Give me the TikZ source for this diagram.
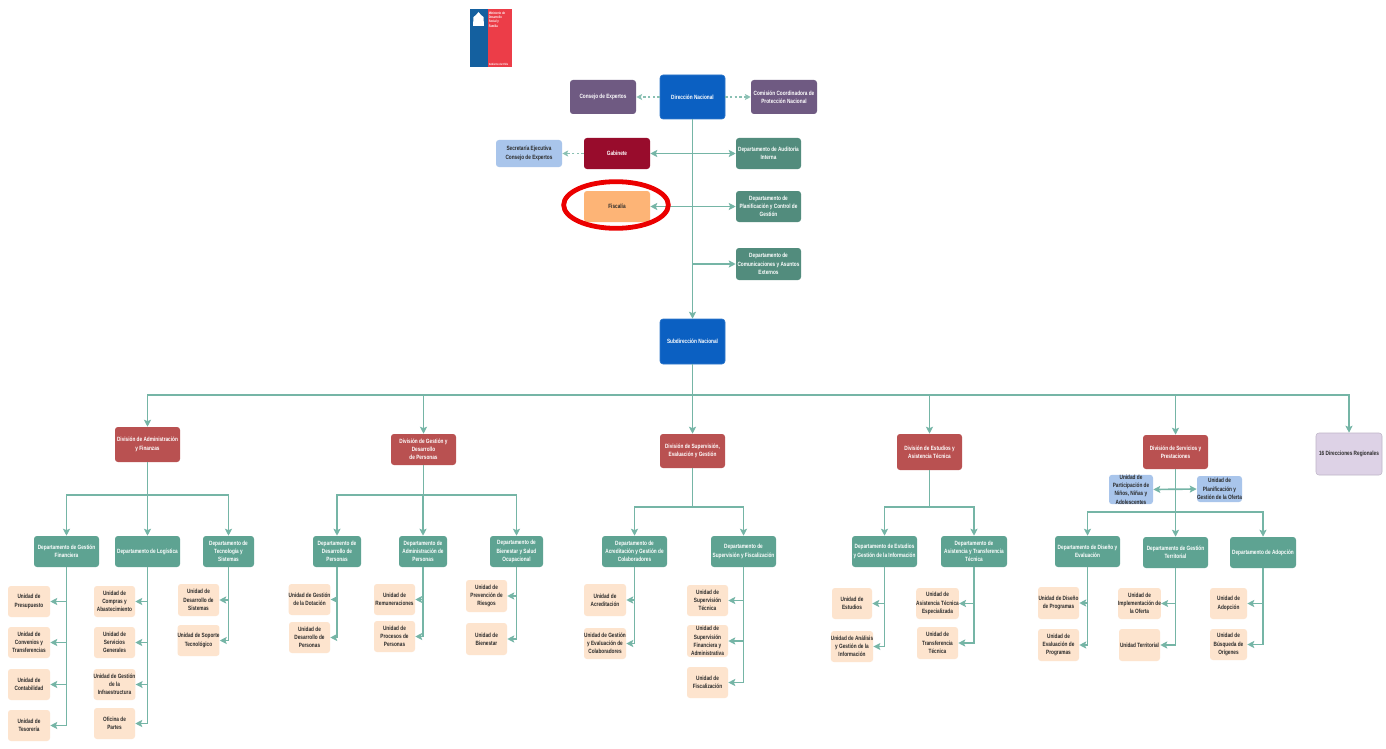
\documentclass[tikz,border=0pt]{standalone}
\usepackage{fontspec}
\setmainfont[FakeStretch=0.77]{Liberation Sans}
\usetikzlibrary{arrows.meta,calc,shapes.geometric}
\definecolor{cdir}{HTML}{0B60C2}
\definecolor{cpur}{HTML}{6F5A82}
\definecolor{cgab}{HTML}{980C2C}
\definecolor{cfis}{HTML}{FDB476}
\definecolor{cup}{HTML}{528C7D}
\definecolor{cdep}{HTML}{5EA392}
\definecolor{cdiv}{HTML}{B95151}
\definecolor{cuni}{HTML}{FDE4CE}
\definecolor{cblu}{HTML}{A9C5EB}
\definecolor{clav}{HTML}{DDD2E6}
\definecolor{cline}{HTML}{75B5A6}
\definecolor{ctxt}{HTML}{2B2B2B}
\definecolor{clogob}{HTML}{14609F}
\definecolor{clogor}{HTML}{EC3D48}
\tikzset{
  base/.style={rounded corners=2.2pt,inner sep=0pt,align=center,font=\fontsize{4.6}{6.2}\selectfont\bfseries},
  dirbox/.style={base,fill=cdir,text=white,draw=cdir!85!white,line width=.4pt},
  purbox/.style={base,fill=cpur,text=white},
  gabbox/.style={base,fill=cgab,text=white},
  fisbox/.style={base,fill=cfis,text=ctxt},
  upbox/.style={base,fill=cup,text=white},
  depbox/.style={base,fill=cdep,text=white},
  divbox/.style={base,fill=cdiv,text=white},
  unibox/.style={base,fill=cuni,text=ctxt},
  blubox/.style={base,fill=cblu,text=ctxt},
  lavbox/.style={base,fill=clav,text=ctxt,draw=cpur!45!white,line width=.4pt},
  conn/.style={draw=cline,line width=1.25pt,-{Stealth[length=5.2pt,width=5.2pt,inset=1pt]}},
  plain/.style={draw=cline,line width=1.25pt},
  both/.style={draw=cline,line width=1.25pt,{Stealth[length=5.2pt,width=5.2pt,inset=1pt]}-{Stealth[length=5.2pt,width=5.2pt,inset=1pt]}},
  dots/.style={draw=cline!85!white,line width=.9pt,dash pattern=on 1.8pt off 1.7pt,-{Stealth[length=4.4pt,width=4.4pt,inset=1pt]}},
}
\newcommand{\bx}[7]{%
  \pgfmathsetmacro{\bw}{(#5-#3)*0.75}\pgfmathsetmacro{\bh}{(#6-#4)*0.75}%
  \node[#2,minimum width=\bw pt,minimum height=\bh pt] (#1) at ({(#3+#5)/2},{(#4+#6)/2}) {#7};}
\begin{document}
\begin{tikzpicture}[x=0.75pt,y=-0.75pt]
\useasboundingbox (0,0) rectangle (1386,749);
\fill[fill=white] (0,0) rectangle (1386,749);
% logo
\fill[fill=clogob] (470,9) rectangle (487.5,67);
\fill[fill=clogor] (487.5,9) rectangle (512,67);
\fill[white] (473,26) -- (473.5,17) -- (476,15) -- (478.5,12) -- (481,15) -- (483.5,17) -- (484,26) -- cycle;
\node[anchor=north west,inner sep=0pt,align=left,text=white,font=\fontsize{2.6}{3.2}\selectfont\bfseries] (logot) at (488.5,11.5) {Ministerio de\\Desarrollo\\Social y\\Familia};
\node[anchor=south west,inner sep=0pt,text=white,font=\fontsize{2.2}{3}\selectfont\bfseries] (logob) at (488.5,65.5) {Gobierno de Chile};
% top
\bx{dir}{dirbox}{660}{75}{725}{119}{Dirección Nacional}
\bx{cons}{purbox}{570}{80}{636}{114}{Consejo de Expertos}
\bx{comi}{purbox}{751}{80}{817}{114}{Comisión Coordinadora de\\Protección Nacional}
\bx{secr}{blubox}{496}{140}{562}{167}{Secretaría Ejecutiva\\Consejo de Expertos}
\bx{gabi}{gabbox}{584}{138}{650}{169}{Gabinete}
\bx{audi}{upbox}{736}{138}{801}{169}{Departamento de Auditoría\\Interna}
\bx{fisc}{fisbox}{584}{191}{650}{222}{Fiscalía}
\bx{plan}{upbox}{736}{191}{801}{222}{Departamento de\\Planificación y Control de\\Gestión}
\bx{comu}{upbox}{736}{248}{801}{280}{Departamento de\\Comunicaciones y Asuntos\\Externos}
\bx{sub}{dirbox}{660}{319}{725}{364}{Subdirección Nacional}
% divisions
\bx{da}{divbox}{115}{427}{180}{462}{División de Administración\\y Finanzas}
\bx{dg}{divbox}{391}{434}{456}{465}{División de Gestión y\\Desarrollo\\de Personas}
\bx{ds}{divbox}{660}{434}{725}{468}{División de Supervisión,\\Evaluación y Gestión}
\bx{de}{divbox}{897}{434}{962}{470}{División de Estudios y\\Asistencia Técnica}
\bx{dp}{divbox}{1143}{435}{1208}{469}{División de Servicios y\\Prestaciones}
\bx{dr}{lavbox}{1316}{433}{1382}{475}{16 Direcciones Regionales}
% departments
\bx{a1}{depbox}{34}{536}{99}{567}{Departamento de Gestión\\Financiera}
\bx{a2}{depbox}{115}{536}{180}{567}{Departamento de Logística}
\bx{a3}{depbox}{203}{536}{254}{567}{Departamento de\\Tecnología y\\Sistemas}
\bx{g1}{depbox}{313}{536}{361}{567}{Departamento de\\Desarrollo de\\Personas}
\bx{g2}{depbox}{399}{536}{447}{567}{Departamento de\\Administración de\\Personas}
\bx{g3}{depbox}{490}{536}{543}{567}{Departamento de\\Bienestar y Salud\\Ocupacional}
\bx{s1}{depbox}{602}{536}{667}{567}{Departamento de\\Acreditación y Gestión de\\Colaboradores}
\bx{s2}{depbox}{711}{536}{776}{567}{Departamento de\\Supervisión y Fiscalización}
\bx{e1}{depbox}{852}{536}{917}{567}{Departamento de Estudios\\y Gestión de la Información}
\bx{e2}{depbox}{941}{536}{1007}{567}{Departamento de\\Asistencia y Transferencia\\Técnica}
\bx{p1}{depbox}{1055}{536}{1120}{567}{Departamento de Diseño y\\Evaluación}
\bx{p2}{depbox}{1143}{537}{1208}{568}{Departamento de Gestión\\Territorial}
\bx{p3}{depbox}{1230}{537}{1296}{568}{Departamento de Adopción}
% staff units of Servicios
\bx{up}{blubox}{1109}{475}{1153}{504}{Unidad de\\Participación de\\Niños, Niñas y\\Adolescentes}
\bx{uq}{blubox}{1197}{476}{1242}{502}{Unidad de\\Planificación y\\Gestión de la Oferta}
% units
\bx{a11}{unibox}{8}{586}{50}{617}{Unidad de\\Presupuesto}
\bx{a12}{unibox}{8}{627}{50}{658}{Unidad de\\Convenios y\\Transferencias}
\bx{a13}{unibox}{8}{669}{50}{700}{Unidad de\\Contabilidad}
\bx{a14}{unibox}{8}{710}{50}{741}{Unidad de\\Tesorería}
\bx{a21}{unibox}{94}{586}{135}{617}{Unidad de\\Compras y\\Abastecimiento}
\bx{a22}{unibox}{94}{627}{135}{658}{Unidad de\\Servicios\\Generales}
\bx{a23}{unibox}{94}{669}{135}{700}{Unidad de Gestión\\de la\\Infraestructura}
\bx{a24}{unibox}{94}{708}{135}{739}{Oficina de\\Partes}
\bx{a31}{unibox}{178}{584}{219}{616}{Unidad de\\Desarrollo de\\Sistemas}
\bx{a32}{unibox}{178}{625}{219}{656}{Unidad de Soporte\\Tecnológico}
\bx{g11}{unibox}{289}{584}{330}{615}{Unidad de Gestión\\de la Dotación}
\bx{g12}{unibox}{289}{622}{330}{653}{Unidad de\\Desarrollo de\\Personas}
\bx{g21}{unibox}{374}{584}{415}{615}{Unidad de\\Remuneraciones}
\bx{g22}{unibox}{374}{621}{415}{652}{Unidad de\\Procesos de\\Personas}
\bx{g31}{unibox}{466}{580}{507}{612}{Unidad de\\Prevención de\\Riesgos}
\bx{g32}{unibox}{466}{623}{507}{655}{Unidad de\\Bienestar}
\bx{s11}{unibox}{584}{584}{626}{616}{Unidad de\\Acreditación}
\bx{s12}{unibox}{584}{628}{626}{659}{Unidad de Gestión\\y Evaluación de\\Colaboradores}
\bx{s21}{unibox}{687}{585}{728}{616}{Unidad de\\Supervisión\\Técnica}
\bx{s22}{unibox}{687}{625}{728}{657}{Unidad de\\Supervisión\\Financiera y\\Administrativa}
\bx{s23}{unibox}{687}{667}{728}{698}{Unidad de\\Fiscalización}
\bx{e11}{unibox}{832}{588}{872}{619}{Unidad de\\Estudios}
\bx{e12}{unibox}{832}{631}{872}{662}{Unidad de Análisis\\y Gestión de la\\Información}
\bx{e21}{unibox}{917}{588}{958}{619}{Unidad de\\Asistencia Técnica\\Especializada}
\bx{e22}{unibox}{917}{627}{958}{659}{Unidad de\\Transferencia\\Técnica}
\bx{p11}{unibox}{1038}{587}{1079}{619}{Unidad de Diseño\\de Programas}
\bx{p12}{unibox}{1038}{629}{1079}{661}{Unidad de\\Evaluación de\\Programas}
\bx{p21}{unibox}{1119}{588}{1160}{619}{Unidad de\\Implementación de\\la Oferta}
\bx{p22}{unibox}{1119}{629}{1160}{661}{Unidad Territorial}
\bx{p31}{unibox}{1210}{588}{1247}{619}{Unidad de\\Adopción}
\bx{p32}{unibox}{1210}{629}{1247}{660}{Unidad de\\Búsqueda de\\Orígenes}
% bus coordinates
\coordinate (busm) at ($(sub.south)+(0,31)$);
\coordinate (bua) at (147.5,495);
\coordinate (bug) at (423.5,495);
\coordinate (bus) at (692.5,507);
\coordinate (bue) at (929.5,507);
\coordinate (bup) at (1175.5,512);
% upper connectors
\draw[dots] (dir.west) -- (cons.east);
\draw[dots] (dir.east) -- (comi.west);
\draw[dots] (gabi.west) -- (secr.east);
\draw[conn] (dir.south) -- (sub.north);
\draw[both] (gabi.east) -- (audi.west);
\draw[both] (fisc.east) -- (plan.west);
\draw[conn] (dir.south |- comu.west) -- (comu.west);
% to divisions
\draw[plain] (sub.south) -- (busm);
\foreach \d in {da,dg,ds,de,dp,dr} {\draw[conn] (busm) -| (\d.north);}
% to departments
\draw[plain] (da.south) -- (bua);
\foreach \d in {a1,a2,a3} {\draw[conn] (bua) -| (\d.north);}
\draw[plain] (dg.south) -- (bug);
\foreach \d in {g1,g2,g3} {\draw[conn] (bug) -| (\d.north);}
\draw[plain] (ds.south) -- (bus);
\foreach \d in {s1,s2} {\draw[conn] (bus) -| (\d.north);}
\draw[plain] (de.south) -- (bue);
\foreach \d in {e1,e2} {\draw[conn] (bue) -| (\d.north);}
\draw[plain] (dp.south) -- (bup);
\foreach \d in {p1,p2,p3} {\draw[conn] (bup) -| (\d.north);}
\draw[both] (up.east) -- (uq.west);
% to units
\foreach \d/\u in {a1/a11,a1/a12,a1/a13,a1/a14,a2/a21,a2/a22,a2/a23,a2/a24,a3/a31,a3/a32,
  g1/g11,g1/g12,g2/g21,g2/g22,g3/g31,g3/g32,s1/s11,s1/s12,s2/s21,s2/s22,s2/s23,
  e1/e11,e1/e12,e2/e21,e2/e22,p1/p11,p1/p12,p2/p21,p2/p22,p3/p31,p3/p32}
  {\draw[conn] (\d.south) |- (\u.east);}
% ring
\node[draw=red!92!black,line width=3.6pt,ellipse,minimum width=78.5pt,minimum height=35pt,inner sep=0pt,fill=none] (ring) at (616,205) {};
\end{tikzpicture}
\end{document}
